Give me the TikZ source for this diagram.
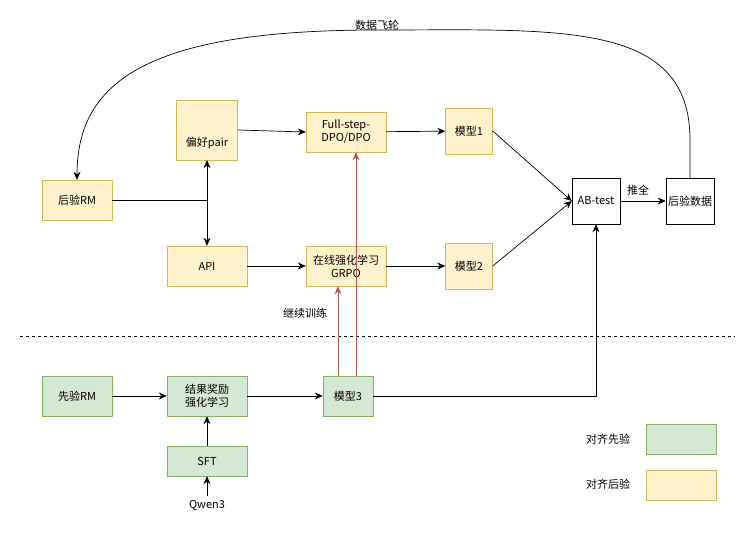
\documentclass[tikz,border=0pt]{standalone}
\usepackage{fontspec}
\setmainfont{Noto Sans CJK SC}
\usetikzlibrary{shapes.geometric,arrows.meta}
\definecolor{yf}{HTML}{FFF2CC}\definecolor{ys}{HTML}{D6B656}
\definecolor{gf}{HTML}{D5E8D4}\definecolor{gs}{HTML}{82B366}
\definecolor{rs}{HTML}{B85450}
\begin{document}
\begin{tikzpicture}[x=1pt,y=-1pt,font=\fontsize{11}{13}\selectfont,
 box/.style={draw,minimum width=#1,inner sep=0pt,align=center},
 yb/.style={box=#1,fill=yf,draw=ys},
 gb/.style={box=#1,fill=gf,draw=gs},
 ar/.style={-{Stealth[length=8pt,width=7pt]},line width=0.7pt},
 rar/.style={ar,draw=rs}]
\useasboundingbox (0,0) rectangle (754,538);
\node[yb=70pt,minimum height=40pt] (rm) at (77,200) {后验RM};
\node[cylinder,shape border rotate=90,aspect=0.35,draw=ys,fill=yf,minimum width=61pt,minimum height=60pt,inner sep=0pt] (pair) at (207,130) {};
\node (pairt) at (207,143) {偏好pair};
\node[yb=80pt,minimum height=40pt] (dpo) at (346,132) {Full-step-\\DPO/DPO};
\node[yb=47pt,minimum height=46pt] (m1) at (469,131) {模型1};
\node[yb=80pt,minimum height=40pt] (api) at (207,266) {API};
\node[yb=80pt,minimum height=40pt] (grpo) at (346,266) {在线强化学习\\GRPO};
\node[yb=47pt,minimum height=46pt] (m2) at (469,266) {模型2};
\node[box=48pt,minimum height=46pt] (ab) at (596,201) {AB-test};
\node[box=48pt,minimum height=46pt] (post) at (690,201) {后验数据};
\node[gb=70pt,minimum height=40pt] (prm) at (77,396) {先验RM};
\node[gb=80pt,minimum height=40pt] (rl) at (207,396) {结果奖励\\强化学习};
\node[gb=50pt,minimum height=40pt] (m3) at (348,396) {模型3};
\node[gb=80pt,minimum height=30pt] (sft) at (207,461) {SFT};
\node (qw) at (207,505) {Qwen3};
\node[gb=70pt,minimum height=30pt] (lg) at (681,439) {};
\node[yb=70pt,minimum height=30pt] (ly) at (681,485) {};
\node (lgt) at (608,439) {对齐先验};
\node (lyt) at (608,484) {对齐后验};
\node (fly) at (377,25) {数据飞轮};
\node (tq) at (638,190) {推全};
\node (jx) at (305,313) {继续训练};
\coordinate (j) at (207,200);
\draw[dashed,line width=0.6pt] (20,336) -- (735,336);
\draw[ar] (post.north) -- (690,140) .. controls (690,20) and (560,30) .. (377,30) .. controls (150,30) and (77,80) .. (rm.north);
\draw[line width=0.7pt] (rm.east) -- (j);
\draw[ar] (j) -- (pair.south);
\draw[ar] (j) -- (api.north);
\draw[ar] (pair.east) -- (dpo.west);
\draw[ar] (dpo) -- (m1);
\draw[ar] (api) -- (grpo);
\draw[ar] (grpo) -- (m2);
\draw[ar] (m1.east) -- (ab.west);
\draw[ar] (m2.east) -- (ab.west);
\draw[ar] (ab) -- (post);
\draw[ar] (prm) -- (rl);
\draw[ar] (rl) -- (m3);
\draw[ar] (sft) -- (rl);
\draw[ar] (qw) -- (sft);
\draw[ar] (m3.east) -- (596,396) -- (ab.south);
\draw[rar] (m3.north -| 338,0) -- (grpo.south -| 338,0);
\draw[rar] (m3.north -| 356,0) -- (dpo.south -| 356,0);
\end{tikzpicture}
\end{document}
